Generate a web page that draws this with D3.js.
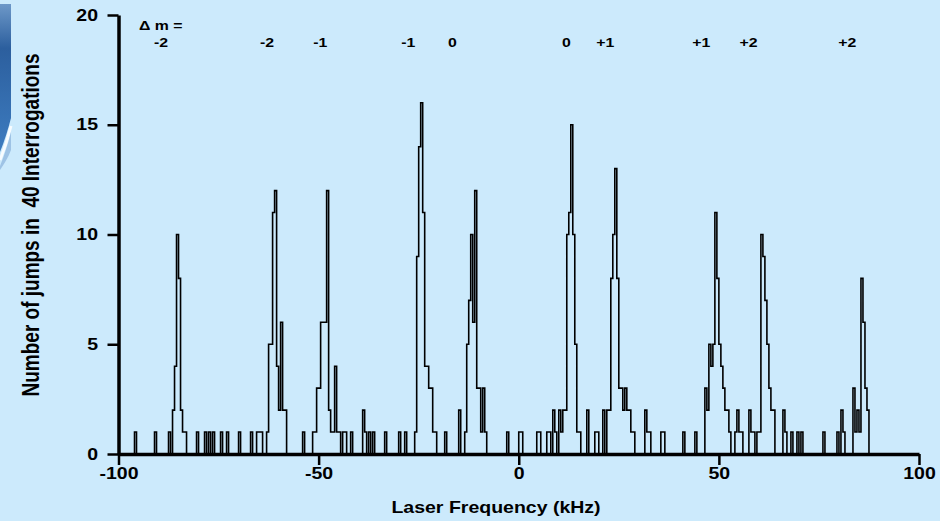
<!DOCTYPE html>
<html>
<head>
<meta charset="utf-8">
<script src="https://cdn.jsdelivr.net/npm/d3@7"></script>
<style>
  body { margin: 0; background: #cceafc; }
  svg { display: block; font-family: "Liberation Sans", Arial, sans-serif; font-weight: bold; }
</style>
</head>
<body>
<div id="chart"></div>
<script>
const width = 940;
const height = 521;

// histogram data: runs of consecutive 0.5 kHz bins (start frequency, counts)
const binWidth = 0.5;
const groupStart = [
  -96, -91, -87.5, -80.5, -78.5, -74.5, -73, -70, -67, -65.5,
  -54, -51.5, -42, -39, -33.5, -30, -28.5, -26, -18.5, -15,
  -13.5, -3, 0, 4.5, 7, 17, 19, 21, 31.5, 35.5,
  41, 44, 46.5, 54, 57.5, 66, 68, 69.5, 76, 79.5, 83.5
];
const groupCounts = [
  [1], [1], [1, 0, 2, 4, 10, 8, 2, 1, 1], [1], [1, 0, 1, 0, 1], [1], [1], [1], [1],
  [1, 1, 1, 0, 0, 1, 5, 5, 11, 12, 4, 2, 6, 2, 2],
  [1], [1, 1, 3, 3, 6, 6, 6, 12, 2, 1, 1, 4, 1, 1, 0, 1, 1], [1], [2, 1, 0, 1, 0, 1],
  [1], [1], [1], [1, 9, 14, 16, 11, 4, 4, 3, 3, 1, 1], [1], [2],
  [1, 5, 7, 10, 6, 12, 3, 3, 1, 3, 1], [1], [1, 1], [1, 1],
  [1, 1, 0, 2, 1, 0, 2, 1, 2, 2, 10, 11, 15, 10, 5, 1, 1], [2], [1, 1],
  [2, 0, 2, 2, 8, 10, 13, 8, 3, 3, 2, 3, 2, 2, 1, 1], [2, 1, 1], [1, 1],
  [1], [1], [3, 2, 5, 4, 5, 11, 8, 5, 4, 3, 2, 2, 1], [1, 2, 1, 1],
  [2, 1, 1, 0, 1, 1, 10, 9, 7, 5, 3, 2, 2], [2, 1], [1], [1, 0, 1], [1],
  [1, 0, 2, 1], [3, 1, 2, 1, 8, 6, 3, 2]
];

const xTicks = [-100, -50, 0, 50, 100];
const yTicks = [0, 5, 10, 15, 20];

// delta-m annotations above the peaks
const mLabels = ["-2", "-1", "-1", "0", "0", "+1", "+1", "+2", "+2"];
const mLabelFreq = [-62.9, -49.6, -27.6, -16.6, 11.9, 21.6, 45.6, 57.4, 82.1];

// the slide image is stretched sideways, so the text is too
const stretch = 1.22;

const svg = d3.select("#chart").append("svg")
  .attr("width", width)
  .attr("height", height);

// slide decoration on the left edge
const defs = svg.append("defs");
const grad = defs.append("linearGradient")
  .attr("id", "edge").attr("x1", 0).attr("y1", 0).attr("x2", 0).attr("y2", 1);
grad.append("stop").attr("offset", "0%").attr("stop-color", "#6d98c8");
grad.append("stop").attr("offset", "30%").attr("stop-color", "#2c5f9e");
grad.append("stop").attr("offset", "100%").attr("stop-color", "#3d7cc0");

svg.append("path")
  .attr("d", "M0,4 H11 V118 C8,130 4,142 0,152 Z")
  .attr("fill", "url(#edge)");
svg.append("path")
  .attr("d", "M0,160 C4,150 8,138 11,126")
  .attr("fill", "none")
  .attr("stroke", "#ffffff")
  .attr("stroke-width", 3)
  .attr("opacity", 0.85);
svg.append("path")
  .attr("d", "M0,166 C4,156 8,144 11,132 V150 C8,158 4,164 0,170 Z")
  .attr("fill", "#7fa9d6")
  .attr("opacity", 0.6);

const x = d3.scaleLinear().domain([-100, 100]).range([118.5, 919]);
const y = d3.scaleLinear().domain([0, 20]).range([454, 15]);

// expand runs into bins
const bins = [];
groupStart.forEach((s, g) => {
  groupCounts[g].forEach((c, i) => bins.push({ x0: s + i * binWidth, count: c }));
});
bins.sort((a, b) => a.x0 - b.x0);

// fill the gaps with zero bins so the step line returns to the baseline
const pts = [[bins[0].x0, 0]];
bins.forEach((b, i) => {
  if (i > 0) {
    const prevEnd = bins[i - 1].x0 + binWidth;
    if (b.x0 > prevEnd + 1e-9) pts.push([prevEnd, 0]);
  }
  pts.push([b.x0, b.count]);
});
pts.push([bins[bins.length - 1].x0 + binWidth, 0]);

const line = d3.line()
  .x(d => x(d[0]))
  .y(d => y(d[1]))
  .curve(d3.curveStepAfter);

svg.append("path")
  .datum(pts)
  .attr("d", line)
  .attr("fill", "none")
  .attr("stroke", "#000")
  .attr("stroke-width", 1.6);

// axes
const yAxis = svg.append("g")
  .attr("transform", `translate(${x(-100)},0)`)
  .call(d3.axisLeft(y).tickValues(yTicks).tickFormat(d => String(d))
    .tickSize(11).tickSizeOuter(0).tickPadding(9));
const xAxis = svg.append("g")
  .attr("transform", `translate(0,${y(0)})`)
  .call(d3.axisBottom(x).tickValues(xTicks).tickFormat(d => String(d))
    .tickSize(11).tickSizeOuter(0).tickPadding(3));

[yAxis, xAxis].forEach(ax => {
  ax.select(".domain").attr("stroke", "#000").attr("stroke-width", 3.5);
  ax.selectAll(".tick line").attr("stroke", "#000").attr("stroke-width", 2.5);
  ax.selectAll(".tick text")
    .attr("fill", "#000")
    .style("font-size", "16px")
    .style("font-family", "'Liberation Sans', Arial, sans-serif")
    .style("font-weight", "bold");
});
yAxis.selectAll(".tick text")
  .attr("x", -20.5 / stretch)
  .attr("transform", `scale(${stretch},1)`);
xAxis.selectAll(".tick text")
  .attr("transform", `scale(${stretch},1)`);

// axis titles
svg.append("text")
  .attr("transform", `translate(39,225) scale(${stretch},1) rotate(-90)`)
  .attr("text-anchor", "middle")
  .style("font-size", "19px")
  .style("white-space", "pre")
  .text("Number of jumps in  40 Interrogations");

svg.append("text")
  .attr("transform", `translate(496,513) scale(${stretch},1)`)
  .attr("text-anchor", "middle")
  .style("font-size", "16px")
  .text("Laser Frequency (kHz)");

// delta m annotations
svg.append("text")
  .attr("transform", `translate(139,30) scale(${stretch},1)`)
  .style("font-size", "13px")
  .text("\u0394 m =");
svg.append("text")
  .attr("transform", `translate(161,47) scale(${stretch},1)`)
  .attr("text-anchor", "middle")
  .style("font-size", "13px")
  .text("-2");

svg.selectAll("text.dm")
  .data(mLabels)
  .enter().append("text")
  .attr("class", "dm")
  .attr("transform", (d, i) => `translate(${x(mLabelFreq[i])},47) scale(${stretch},1)`)
  .attr("text-anchor", "middle")
  .style("font-size", "13px")
  .text(d => d);
</script>
</body>
</html>
